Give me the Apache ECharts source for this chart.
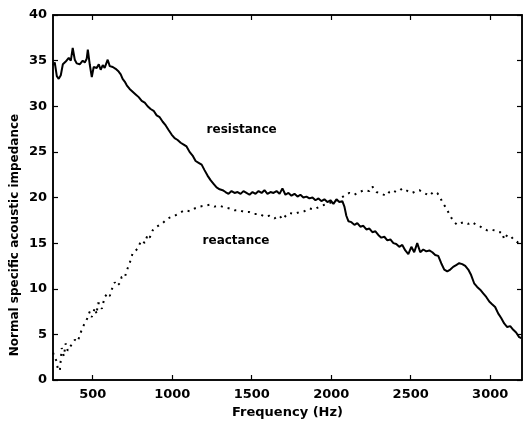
<!DOCTYPE html>
<html>
<head>
<meta charset="utf-8">
<script src="https://cdn.jsdelivr.net/npm/echarts@6/dist/echarts.min.js"></script>
<style>
  html, body { margin: 0; padding: 0; background: #fff; }
  #chart { width: 523px; height: 424px; }
</style>
</head>
<body>
<div id="chart"></div>
<script>
// Frequency tick positions (Hz) and impedance ticks
const freqTicks = [500, 1000, 1500, 2000, 2500, 3000];
const impTicks = [0, 5, 10, 15, 20, 25, 30, 35, 40];

// Resistance: [frequency Hz, normal specific acoustic impedance]
const resistance = [
  [250, 34.5], [261, 34.8], [274, 33.3], [286, 33.0], [299, 33.4], [312, 34.6],
  [330, 34.9], [349, 35.3], [362, 35.0], [374, 36.4], [387, 35.1], [399, 34.7],
  [418, 34.6], [437, 35.0], [450, 34.8], [462, 35.2], [469, 36.2], [481, 34.6],
  [494, 33.2], [506, 34.3], [525, 34.2], [538, 34.6], [550, 34.0], [563, 34.5],
  [575, 34.2], [594, 35.1], [607, 34.4], [626, 34.3], [644, 34.1], [663, 33.8],
  [676, 33.5], [688, 33.0], [701, 32.7], [714, 32.3], [732, 31.9], [751, 31.6],
  [770, 31.3], [789, 31.0], [808, 30.6], [827, 30.4], [845, 30.0], [864, 29.7],
  [883, 29.5], [902, 29.0], [921, 28.8], [940, 28.3], [959, 27.9], [977, 27.4],
  [996, 26.9], [1015, 26.5], [1034, 26.3], [1053, 26.0], [1072, 25.8], [1090, 25.6],
  [1109, 25.0], [1128, 24.6], [1147, 24.0], [1166, 23.8], [1185, 23.6], [1203, 23.0],
  [1222, 22.4], [1241, 21.9], [1260, 21.5], [1279, 21.1], [1298, 20.9], [1317, 20.8],
  [1335, 20.6], [1354, 20.4], [1373, 20.7], [1392, 20.5], [1411, 20.6], [1430, 20.4],
  [1448, 20.7], [1467, 20.5], [1486, 20.3], [1505, 20.6], [1524, 20.4], [1543, 20.7],
  [1562, 20.5], [1580, 20.8], [1599, 20.4], [1618, 20.6], [1637, 20.5], [1656, 20.7],
  [1675, 20.4], [1693, 21.0], [1712, 20.3], [1731, 20.5], [1750, 20.2], [1769, 20.4],
  [1788, 20.1], [1806, 20.3], [1825, 20.0], [1844, 20.1], [1863, 19.9], [1882, 20.0],
  [1901, 19.7], [1920, 19.9], [1938, 19.6], [1957, 19.8], [1976, 19.5], [1995, 19.7],
  [2014, 19.3], [2033, 19.8], [2051, 19.5], [2070, 19.6], [2083, 19.0], [2095, 18.0],
  [2108, 17.4], [2127, 17.3], [2146, 17.0], [2164, 17.2], [2183, 16.8], [2202, 16.9],
  [2221, 16.5], [2240, 16.6], [2259, 16.2], [2278, 16.3], [2296, 15.9], [2315, 15.6],
  [2334, 15.7], [2353, 15.3], [2372, 15.4], [2391, 15.0], [2409, 14.9], [2428, 14.6],
  [2447, 14.8], [2466, 14.2], [2485, 13.8], [2504, 14.6], [2522, 14.0], [2541, 15.0],
  [2560, 14.0], [2579, 14.3], [2598, 14.1], [2617, 14.2], [2636, 14.0], [2654, 13.7],
  [2673, 13.6], [2692, 12.8], [2711, 12.1], [2730, 11.9], [2749, 12.1], [2767, 12.4],
  [2786, 12.6], [2805, 12.8], [2824, 12.7], [2843, 12.5], [2862, 12.1], [2880, 11.5],
  [2899, 10.6], [2918, 10.2], [2937, 9.9], [2956, 9.5], [2975, 9.1], [2994, 8.6],
  [3012, 8.3], [3031, 8.0], [3050, 7.3], [3069, 6.8], [3088, 6.2], [3107, 5.8],
  [3126, 5.9], [3145, 5.5], [3163, 5.2], [3182, 4.7], [3195, 4.6]
];

// Reactance: [frequency Hz, normal specific acoustic impedance]
const reactance = [
  [250, 3.0], [261, 2.5], [274, 2.0], [280, 1.2], [293, 1.0], [305, 3.5],
  [318, 2.6], [330, 4.0], [343, 3.2], [356, 3.6], [368, 3.4], [387, 4.4],
  [406, 4.2], [418, 4.9], [437, 5.8], [450, 6.2], [462, 6.6], [481, 7.5],
  [494, 6.9], [513, 7.9], [525, 7.2], [531, 8.4], [544, 8.4], [557, 7.8],
  [575, 9.1], [594, 9.5], [607, 9.2], [619, 9.9], [638, 10.7], [651, 10.3],
  [670, 10.6], [682, 11.3], [701, 11.2], [714, 12.0], [732, 12.8], [751, 13.9],
  [764, 14.1], [783, 14.4], [795, 14.9], [808, 15.3], [827, 15.0], [845, 15.9],
  [858, 15.6], [877, 16.4], [902, 16.8], [921, 17.0], [940, 17.2], [965, 17.6],
  [984, 17.8], [1015, 18.0], [1046, 18.3], [1078, 18.6], [1109, 18.5], [1141, 18.8],
  [1172, 19.0], [1203, 19.1], [1235, 19.2], [1266, 19.0], [1298, 19.1], [1329, 18.9],
  [1360, 18.8], [1392, 18.6], [1423, 18.6], [1455, 18.4], [1486, 18.4], [1518, 18.2],
  [1549, 18.2], [1580, 17.9], [1612, 18.0], [1643, 17.7], [1675, 18.0], [1693, 17.6],
  [1719, 18.1], [1737, 18.3], [1769, 18.2], [1800, 18.4], [1832, 18.5], [1863, 18.8],
  [1894, 18.7], [1926, 19.0], [1957, 19.2], [1989, 19.4], [2020, 19.6], [2051, 19.8],
  [2083, 20.2], [2114, 20.5], [2146, 20.3], [2177, 20.6], [2208, 20.8], [2240, 20.7],
  [2259, 21.2], [2284, 20.6], [2315, 20.4], [2347, 20.2], [2365, 20.6], [2384, 20.8],
  [2409, 20.6], [2428, 20.7], [2447, 21.0], [2472, 20.8], [2491, 20.6], [2510, 20.5],
  [2535, 20.7], [2554, 20.8], [2585, 20.5], [2617, 20.2], [2642, 20.6], [2667, 20.5],
  [2686, 20.0], [2698, 19.5], [2717, 19.0], [2730, 18.6], [2742, 18.2], [2755, 17.8],
  [2774, 17.3], [2793, 17.0], [2818, 17.2], [2837, 17.3], [2862, 17.1], [2887, 17.3],
  [2912, 17.0], [2931, 16.9], [2956, 16.6], [2981, 16.4], [3006, 16.5], [3025, 16.4],
  [3050, 16.2], [3075, 16.2], [3088, 15.4], [3107, 15.9], [3132, 15.7], [3151, 15.3],
  [3169, 15.1], [3195, 15.3]
];

const curveNames = ['resistance', 'reactance'];

const chart = echarts.init(document.getElementById('chart'), null, { renderer: 'canvas' });

const FONT = 'DejaVu Sans';
const axisLineStyle = { color: '#000', width: 1.5 };
const tickStyle = { color: '#000', width: 1.2 };
const labelStyle = { color: '#000', fontFamily: FONT, fontSize: 13, fontWeight: 'bold' };

function frameX(position, showLabels) {
  return {
    type: 'value', position: position, min: 250, max: 3200, gridIndex: 0,
    axisLine: { show: true, onZero: false, lineStyle: axisLineStyle },
    axisTick: { show: true, inside: true, length: 5, customValues: freqTicks, lineStyle: tickStyle },
    axisLabel: Object.assign({ show: showLabels, customValues: freqTicks, margin: 8,
      formatter: v => String(v) }, labelStyle),
    splitLine: { show: false }
  };
}
function frameY(position, showLabels) {
  return {
    type: 'value', position: position, min: 0, max: 40, interval: 5, gridIndex: 0,
    axisLine: { show: true, onZero: false, lineStyle: axisLineStyle },
    axisTick: { show: true, inside: true, length: 5, customValues: impTicks, lineStyle: tickStyle },
    axisLabel: Object.assign({ show: showLabels, customValues: impTicks, margin: 6,
      formatter: v => String(v) }, labelStyle),
    splitLine: { show: false }
  };
}

const xMain = frameX('bottom', true);
xMain.name = 'Frequency (Hz)';
xMain.nameLocation = 'middle';
xMain.nameGap = 26;
xMain.nameTextStyle = { color: '#000', fontFamily: FONT, fontSize: 13, fontWeight: 'bold' };

chart.setOption({
  animation: false,
  backgroundColor: '#fff',
  grid: { left: 53, right: 1, top: 15, bottom: 44, outerBoundsMode: 'none',
    show: true, borderColor: '#000', borderWidth: 1.5, backgroundColor: 'transparent' },
  xAxis: [xMain, frameX('top', false)],
  yAxis: [frameY('left', true), frameY('right', false)],
  series: [
    {
      name: curveNames[0], type: 'line', data: resistance, xAxisIndex: 0, yAxisIndex: 0,
      showSymbol: false, lineStyle: { color: '#000', width: 2 }
    },
    {
      name: curveNames[1], type: 'line', data: reactance, xAxisIndex: 0, yAxisIndex: 0,
      showSymbol: false, lineStyle: { color: '#000', width: 2, type: [2, 5] }
    }
  ]
});

// Curve annotations anchored in data coordinates
const annotations = [
  { text: curveNames[0], at: [1216, 27.4] },
  { text: curveNames[1], at: [1191, 15.2] }
];
const graphics = annotations.map(a => {
  const p = chart.convertToPixel({ xAxisIndex: 0, yAxisIndex: 0 }, a.at);
  return {
    type: 'text', x: p[0], y: p[1],
    style: { text: a.text, fill: '#000', font: 'bold 12px "' + FONT + '"', textAlign: 'left', textVerticalAlign: 'middle' }
  };
});
graphics.push({
  type: 'text', x: 15, y: 235, rotation: Math.PI / 2,
  style: { text: 'Normal specific acoustic impedance', fill: '#000', font: 'bold 12px "' + FONT + '"', textAlign: 'center', textVerticalAlign: 'middle' }
});
chart.setOption({ graphic: graphics });
</script>
</body>
</html>
